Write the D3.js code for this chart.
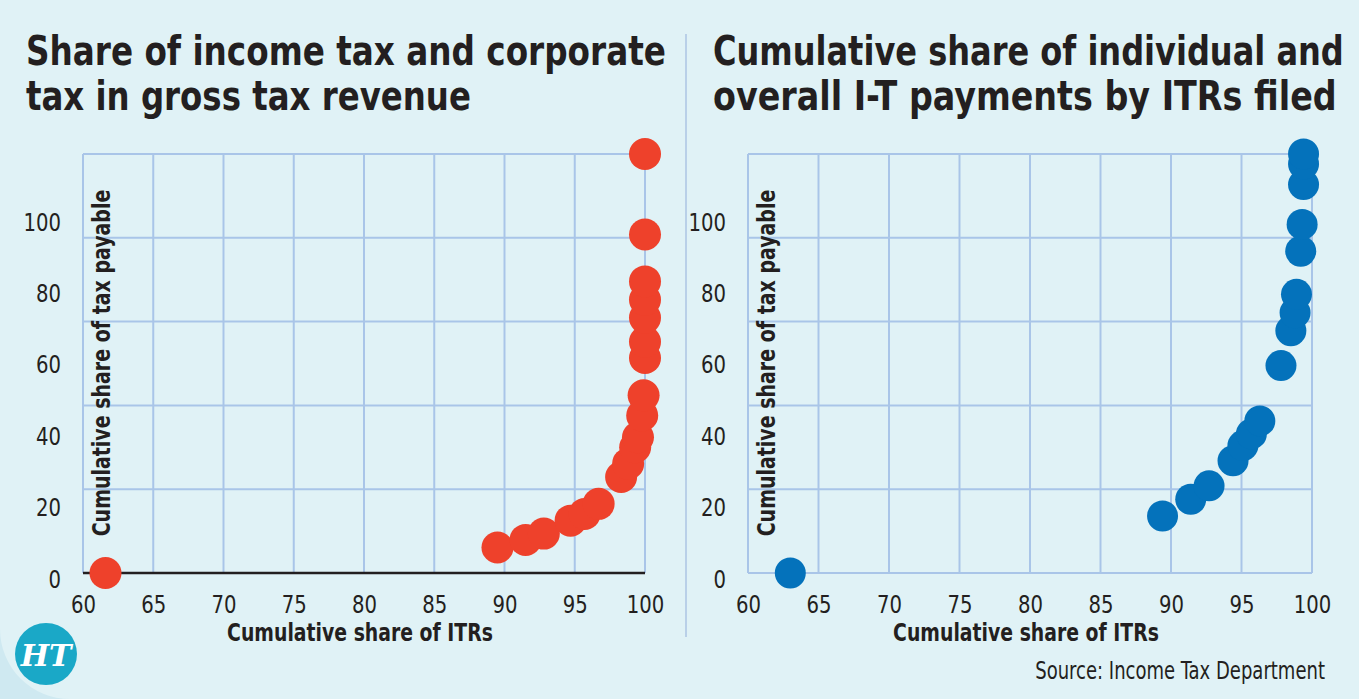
<!DOCTYPE html>
<meta charset="utf-8">
<style>
body { margin: 0; background: #cfe9f1; }
svg { display: block; }
text { font-family: "DejaVu Sans Condensed", "DejaVu Sans", sans-serif; fill: #231f20; }
.title { font-size: 41px; font-weight: bold; }
.tick text { font-size: 25px; }
.axtitle { font-size: 25px; font-weight: bold; }
</style>
<svg id="chart" width="1359" height="699"></svg>
<script src="https://cdn.jsdelivr.net/npm/d3@7"></script>
<script>
// data
var xTicks = [60, 65, 70, 75, 80, 85, 90, 95, 100];
var yTicks = [0, 20, 40, 60, 80, 100];

var leftX = [61.6, 89.5, 91.5, 92.8, 94.7, 95.7, 96.7, 98.3, 98.8, 99.3, 99.5, 99.8, 99.9, 100, 100, 100, 100, 100, 100, 100];
var leftY = [0, 6.1, 7.9, 9.4, 12.5, 14.1, 16.5, 22.9, 26.1, 30.0, 32.4, 37.6, 42.4, 51.3, 55.2, 60.9, 65.2, 69.6, 80.8, 100];

var rightX = [63.0, 89.4, 91.4, 92.7, 94.4, 95.1, 95.7, 96.3, 97.8, 98.5, 98.8, 98.9, 99.2, 99.3, 99.4, 99.4, 99.4];
var rightY = [0, 13.6, 17.6, 20.8, 26.8, 30.4, 33.2, 36.3, 49.5, 57.8, 62.1, 66.5, 76.8, 83.2, 92.7, 97.6, 100];

var titles = [
  ["Share of income tax and corporate", "tax in gross tax revenue"],
  ["Cumulative share of individual and", "overall I-T payments by ITRs filed"]
];
var titleWidths = [[640, 445], [631, 624]];

var svg = d3.select("#chart");
var grid = "#a9c5e8";

// squeeze a text horizontally to the condensed width of the original lettering
function squeeze(sel, w, pre) {
  sel.each(function(d) {
    var t = d3.select(this);
    var tw = typeof w === "function" ? w(d) : w;
    var p = typeof pre === "function" ? pre(d) : pre;
    t.attr("x", null).attr("y", null).attr("dy", null);
    var s = tw / this.getComputedTextLength();
    t.attr("transform", p + " scale(" + s + ",1)");
  });
}

// card with rounded lower-left corner
svg.append("path")
  .attr("d", "M0,0H1359V699H70A70,70 0 0 1 0,629Z")
  .attr("fill", "#e0f2f6");

// divider
svg.append("line")
  .attr("x1", 686).attr("x2", 686).attr("y1", 34).attr("y2", 637)
  .attr("stroke", "#b9d0e8").attr("stroke-width", 2);

function panel(o) {
  var x = d3.scaleLinear().domain([60, 100]).range([o.x0, o.x1]);
  var y = d3.scaleLinear().domain([0, 100]).range([573, 154]);
  // the printed labels do not sit on the grid lines
  var yLab = d3.scaleLinear().domain([0, 100]).range([587, 230]);
  var g = svg.append("g");

  g.selectAll(".t").data(o.title).enter().append("text")
    .attr("class", "title")
    .text(function(d) { return d; })
    .each(function(d, i) {
      d3.select(this).call(squeeze, o.tw[i], "translate(" + o.tx + "," + (65 + i * 45) + ")");
    });

  g.selectAll(".vg").data(xTicks).enter().append("line")
    .attr("x1", x).attr("x2", x).attr("y1", y(100)).attr("y2", y(0))
    .attr("stroke", grid).attr("stroke-width", 2);
  g.selectAll(".hg").data(yTicks).enter().append("line")
    .attr("x1", x(60)).attr("x2", x(100)).attr("y1", y).attr("y2", y)
    .attr("stroke", function(d) { return d === 0 && o.black ? "#231f20" : grid; })
    .attr("stroke-width", function(d) { return d === 0 && o.black ? 2.5 : 2; });

  var ax = g.append("g")
    .call(d3.axisBottom(x).tickValues(xTicks).tickSize(0));
  ax.select(".domain").remove();
  ax.selectAll("text")
    .call(squeeze, function(d) { return String(d).length * 12.5; }, "translate(0,613)");

  var ay = g.append("g").attr("transform", "translate(" + (o.x0 - 22) + ",0)")
    .call(d3.axisLeft(yLab).tickValues(yTicks).tickSize(0).tickPadding(0));
  ay.select(".domain").remove();
  ay.selectAll("text")
    .call(squeeze, function(d) { return String(d).length * 12.5; }, "translate(0,0)");

  g.append("text").attr("class", "axtitle")
    .attr("text-anchor", "middle")
    .text("Cumulative share of ITRs")
    .call(squeeze, 266, "translate(" + ((o.x0 + o.x1) / 2 - 4) + ",641)");

  g.append("text").attr("class", "axtitle")
    .attr("text-anchor", "middle")
    .text("Cumulative share of tax payable")
    .call(squeeze, 347, "translate(" + (o.x0 + 27) + ",363) rotate(-90)");

  g.selectAll(".dot").data(o.xs).enter().append("circle")
    .attr("cx", function(d) { return x(d); })
    .attr("cy", function(d, i) { return y(o.ys[i]); })
    .attr("r", o.r)
    .attr("fill", o.color);
}

panel({x0: 83, x1: 645, tx: 26, title: titles[0], tw: titleWidths[0], xs: leftX, ys: leftY, color: "#ee412b", r: 16, black: true});
panel({x0: 748, x1: 1312, tx: 713, title: titles[1], tw: titleWidths[1], xs: rightX, ys: rightY, color: "#0472bb", r: 15.5, black: false});

svg.append("text")
  .attr("text-anchor", "end")
  .style("font-size", "24px")
  .text("Source: Income Tax Department")
  .call(squeeze, 290, "translate(1325,679)");

// HT logo
svg.append("circle").attr("cx", 46).attr("cy", 654).attr("r", 31).attr("fill", "#1aa8c7");
svg.append("text")
  .attr("x", 46).attr("y", 666)
  .attr("text-anchor", "middle")
  .style("font-family", "'DejaVu Serif', serif")
  .style("font-weight", "bold").style("font-style", "italic")
  .style("font-size", "30px").style("fill", "#fff")
  .text("HT");
</script>
